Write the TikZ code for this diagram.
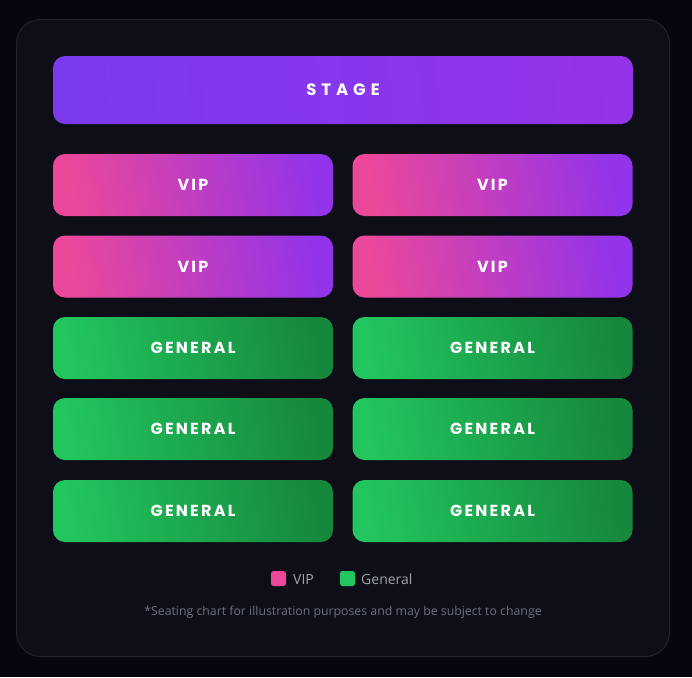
\documentclass[tikz,border=0pt]{standalone}
\usepackage{fontspec}
\setmainfont{Poppins}
\newfontfamily\legendfont{Open Sans}
\definecolor{pagebg}{HTML}{07060F}
\definecolor{cardbg}{HTML}{0E0E18}
\definecolor{cardline}{HTML}{22222E}
\definecolor{stageA}{HTML}{7C3AED}
\definecolor{stageB}{HTML}{9333EA}
\definecolor{vipA}{HTML}{EC4899}
\definecolor{vipB}{HTML}{9333EA}
\definecolor{genA}{HTML}{22C55E}
\definecolor{genB}{HTML}{16883C}
\definecolor{legtext}{HTML}{A1A1AA}
\definecolor{notetext}{HTML}{6B7280}
\tikzset{
  seat/.style={rounded corners=12pt, minimum width=280pt, minimum height=62pt, inner sep=0pt,
    text=white, font=\fontsize{16}{18}\selectfont\bfseries\addfontfeature{LetterSpace=14}},
  vipseat/.style={seat, left color=vipA, right color=vipB, shading angle=100},
  genseat/.style={seat, left color=genA, right color=genB, shading angle=100},
  swatch/.style={rounded corners=2.5pt, minimum size=15pt, inner sep=0pt},
  legtxt/.style={text=legtext, font=\legendfont\fontsize{14}{16}\selectfont, inner sep=0pt, anchor=west}
}
\begin{document}
\begin{tikzpicture}[x=1pt,y=-1pt]
\fill[pagebg] (0,0) rectangle (692,677);
\useasboundingbox (0,0) rectangle (692,677);
\draw[cardline, fill=cardbg, rounded corners=24pt, line width=1pt] (16.5,19.5) rectangle (669.5,656.5);
\node[seat, minimum width=580pt, minimum height=68pt, left color=stageA, right color=stageB, shading angle=95,
  font=\fontsize{16.5}{19}\selectfont\bfseries\addfontfeature{LetterSpace=30}] (stage) at (343,90) {STAGE\hspace{6pt}};
\node[vipseat] (v1) at (193,185) {VIP\hspace{2pt}};
\node[vipseat] (v2) at (492.5,185) {VIP\hspace{2pt}};
\node[vipseat] (v3) at (193,266.5) {VIP\hspace{2pt}};
\node[vipseat] (v4) at (492.5,266.5) {VIP\hspace{2pt}};
\node[genseat] (g1) at (193,348) {GENERAL\hspace{2pt}};
\node[genseat] (g2) at (492.5,348) {GENERAL\hspace{2pt}};
\node[genseat] (g3) at (193,429) {GENERAL\hspace{2pt}};
\node[genseat] (g4) at (492.5,429) {GENERAL\hspace{2pt}};
\node[genseat] (g5) at (193,511) {GENERAL\hspace{2pt}};
\node[genseat] (g6) at (492.5,511) {GENERAL\hspace{2pt}};
\node[swatch, fill=vipA] (sv) at (278.5,578.5) {};
\node[legtxt] (lv) at (293,579) {VIP};
\node[swatch, fill=genA] (sg) at (347.5,578.5) {};
\node[legtxt] (lg) at (361,579) {General};
\node[text=notetext, font=\legendfont\fontsize{12.3}{14}\selectfont, inner sep=0pt] (note) at (343,612.5)
  {*Seating chart for illustration purposes and may be subject to change};
\end{tikzpicture}
\end{document}
